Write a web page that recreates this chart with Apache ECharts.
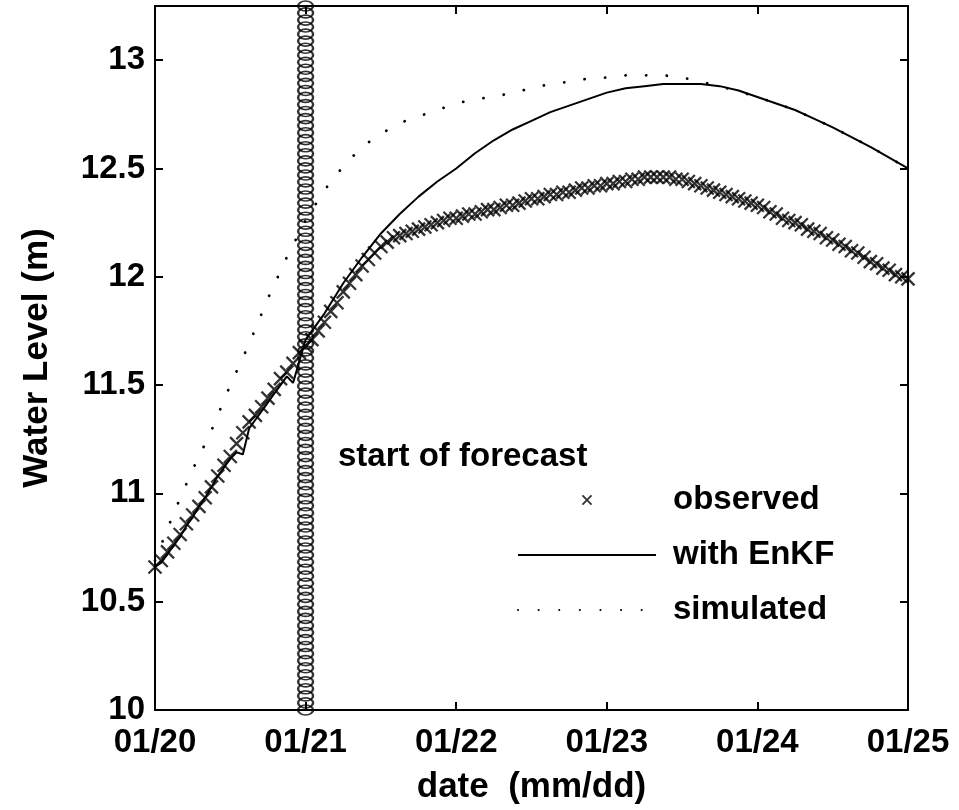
<!DOCTYPE html>
<html>
<head>
<meta charset="utf-8">
<script src="https://cdn.jsdelivr.net/npm/echarts@6/dist/echarts.min.js"></script>
<style>
  html, body { margin: 0; padding: 0; background: #fff; }
  #chart { width: 959px; height: 810px; }
</style>
</head>
<body>
<div id="chart"></div>
<script>
// Time axis runs in hours from 01/20 00:00; one tick label per day.
const dateLabels = ['01/20', '01/21', '01/22', '01/23', '01/24', '01/25'];
const yTicks = [10, 10.5, 11, 11.5, 12, 12.5, 13];

// Hourly observed water level (m), hour 0 .. 120
const obsLevel = [
  10.66, 10.69, 10.73, 10.77, 10.81, 10.86, 10.90, 10.94, 10.98, 11.03, 11.08, 11.13,
  11.17, 11.23, 11.28, 11.33, 11.36, 11.40, 11.44, 11.48, 11.53, 11.56, 11.60, 11.65, 11.68,
  11.71, 11.75, 11.79, 11.84, 11.88, 11.93, 11.97, 12.01, 12.05, 12.08, 12.11, 12.14,
  12.16, 12.18, 12.19, 12.20, 12.21, 12.22, 12.23, 12.24, 12.25, 12.26, 12.27, 12.27,
  12.28, 12.29, 12.29, 12.30, 12.31, 12.31, 12.32, 12.33, 12.33, 12.34, 12.35, 12.36,
  12.36, 12.37, 12.38, 12.38, 12.39, 12.39, 12.40, 12.41, 12.41, 12.42, 12.42, 12.43,
  12.43, 12.44, 12.44, 12.45, 12.45, 12.46, 12.46, 12.46, 12.46, 12.46, 12.45, 12.45,
  12.44, 12.43, 12.42, 12.41, 12.40, 12.39, 12.38, 12.37, 12.36, 12.35, 12.34, 12.33,
  12.32, 12.30, 12.29, 12.27, 12.26, 12.25, 12.24, 12.22, 12.21, 12.20, 12.18, 12.17,
  12.15, 12.14, 12.12, 12.11, 12.09, 12.07, 12.06, 12.04, 12.03, 12.01, 12.00, 11.99
];

// Model run with EnKF assimilation (hourly updates until the forecast starts)
const enkfHours = [
  0, 1, 2, 3, 4, 5, 6, 7, 8, 9, 10, 11, 12, 13, 14, 15, 16, 17, 18, 19, 20, 21, 22, 23, 24,
  27, 30, 33, 36, 39, 42, 45, 48, 51, 54, 57, 60, 63, 66, 69, 72,
  75, 78, 81, 84, 87, 90, 93, 96, 99, 102, 105, 108, 111, 114, 117, 120
];
const enkfLevel = [
  10.66, 10.68, 10.72, 10.76, 10.80, 10.85, 10.89, 10.94, 10.98, 11.03, 11.08, 11.12, 11.16,
  11.19, 11.18, 11.30, 11.34, 11.38, 11.42, 11.46, 11.50, 11.54, 11.51, 11.61, 11.71,
  11.83, 11.97, 12.09, 12.20, 12.29, 12.37, 12.44, 12.50, 12.57, 12.63, 12.68, 12.72,
  12.76, 12.79, 12.82, 12.85, 12.87, 12.88, 12.89, 12.89, 12.89, 12.88, 12.86, 12.83,
  12.80, 12.77, 12.73, 12.69, 12.645, 12.60, 12.55, 12.50
];

// Open-loop simulation without assimilation
const simHours = [
  0, 3, 6, 9, 12, 15, 18, 21, 24, 27, 30, 33, 36, 39, 42, 45, 48, 51, 54, 57, 60,
  63, 66, 69, 72, 75, 78, 81, 84, 87, 90, 93, 96, 99, 102, 105, 108, 111, 114, 117, 120
];
const simLevel = [
  10.69, 10.91, 11.11, 11.29, 11.50, 11.69, 11.90, 12.09, 12.26, 12.40, 12.51, 12.60,
  12.66, 12.71, 12.74, 12.77, 12.80, 12.82, 12.83, 12.85, 12.87, 12.89, 12.90, 12.915,
  12.92, 12.93, 12.93, 12.93, 12.92, 12.90, 12.88, 12.855, 12.83, 12.80, 12.77, 12.73,
  12.69, 12.645, 12.60, 12.55, 12.50
];

// Vertical marker column at the forecast start (01/21 00:00)
const forecastStartHour = 24;
const forecastMarkLevels = [
  10.000, 10.033, 10.065, 10.098, 10.130, 10.163, 10.195, 10.228, 10.260, 10.293,
  10.325, 10.358, 10.390, 10.423, 10.455, 10.488, 10.520, 10.553, 10.585, 10.618,
  10.650, 10.683, 10.715, 10.748, 10.780, 10.813, 10.845, 10.878, 10.910, 10.943,
  10.975, 11.008, 11.040, 11.073, 11.105, 11.138, 11.170, 11.203, 11.235, 11.268,
  11.300, 11.333, 11.365, 11.398, 11.430, 11.463, 11.495, 11.528, 11.560, 11.593,
  11.625, 11.658, 11.690, 11.723, 11.755, 11.788, 11.820, 11.853, 11.885, 11.918,
  11.950, 11.983, 12.015, 12.048, 12.080, 12.113, 12.145, 12.178, 12.210, 12.243,
  12.275, 12.308, 12.340, 12.373, 12.405, 12.438, 12.470, 12.503, 12.535, 12.568,
  12.600, 12.633, 12.665, 12.698, 12.730, 12.763, 12.795, 12.828, 12.860, 12.893,
  12.925, 12.958, 12.990, 13.023, 13.055, 13.088, 13.120, 13.153, 13.185, 13.218,
  13.250
];

const FONT = "'Liberation Sans', Arial, Helvetica, sans-serif";
const crossPath = 'path://M0,0L10,10M10,0L0,10';
const smallCrossPath = 'path://M-6,-6M16,16M0,0L10,10M10,0L0,10';

const obsData = obsLevel.map((v, i) => [i, v]);
const enkfData = enkfHours.map((h, i) => [h, enkfLevel[i]]);
const simData = simHours.map((h, i) => [h, simLevel[i]]);
const markData = forecastMarkLevels.map(v => [forecastStartHour, v]);

const axisLine = { show: true, onZero: false, lineStyle: { color: '#000', width: 2 } };
const tick = { show: true, inside: true, length: 8, lineStyle: { color: '#000', width: 2 } };
const labelFont = { color: '#000', fontFamily: FONT, fontWeight: 'bold', fontSize: 33 };
const hiddenSymbol = { color: '#000', opacity: 0 };

const chart = echarts.init(document.getElementById('chart'), null, { renderer: 'canvas' });
chart.setOption({
  backgroundColor: '#fff',
  animation: false,
  grid: { left: 155, right: 51, top: 6, bottom: 100, outerBoundsMode: 'none', containLabel: false },
  xAxis: [
    {
      type: 'value', min: 0, max: 120, interval: 24, position: 'bottom',
      axisLine, axisTick: tick, splitLine: { show: false },
      axisLabel: Object.assign({ margin: 16, formatter: v => dateLabels[Math.round(v / 24)] }, labelFont),
      name: 'date  (mm/dd)', nameLocation: 'middle', nameGap: 60,
      nameTextStyle: { color: '#000', fontFamily: FONT, fontWeight: 'bold', fontSize: 35 }
    },
    {
      type: 'value', min: 0, max: 120, interval: 24, position: 'top',
      axisLine, axisTick: tick, splitLine: { show: false }, axisLabel: { show: false }
    }
  ],
  yAxis: [
    {
      type: 'value', min: 10, max: 13.25, interval: 0.5, position: 'left',
      axisLine, axisTick: tick, splitLine: { show: false },
      axisLabel: Object.assign({
        margin: 10,
        formatter: v => (yTicks.indexOf(v) >= 0 ? String(v) : '')
      }, labelFont),
      name: 'Water Level (m)', nameLocation: 'middle', nameGap: 100,
      nameTextStyle: { color: '#000', fontFamily: FONT, fontWeight: 'bold', fontSize: 35 }
    },
    {
      type: 'value', min: 10, max: 13.25, interval: 0.5, position: 'right',
      axisLine, axisTick: tick, splitLine: { show: false }, axisLabel: { show: false }
    }
  ],
  legend: {
    orient: 'vertical', left: 512, top: 477,
    itemWidth: 138, itemHeight: 20, itemGap: 19,
    selectedMode: false,
    textStyle: { color: '#000', fontFamily: FONT, fontWeight: 'bold', fontSize: 33, lineHeight: 36, padding: [0, 0, 0, 12] },
    data: [
      { name: 'observed', icon: smallCrossPath, itemStyle: { color: 'none', borderColor: '#000', borderWidth: 1.8 } },
      { name: 'with EnKF', itemStyle: hiddenSymbol },
      { name: 'simulated', itemStyle: hiddenSymbol }
    ]
  },
  graphic: [
    {
      type: 'text', left: 338, top: 440, silent: true,
      style: { text: 'start of forecast', fill: '#000', font: 'bold 33px ' + FONT }
    }
  ],
  series: [
    {
      name: 'simulated', type: 'line', data: simData, symbol: 'none', smooth: false,
      itemStyle: { color: '#000' },
      lineStyle: { color: '#000', width: 2.8, type: [0.1, 20.5], cap: 'round' },
      z: 2
    },
    {
      name: 'with EnKF', type: 'line', data: enkfData, symbol: 'none',
      itemStyle: { color: '#000' },
      lineStyle: { color: '#000', width: 2 },
      z: 3
    },
    {
      name: 'observed', type: 'scatter', data: obsData,
      symbol: crossPath, symbolSize: 13,
      itemStyle: { color: 'none', borderColor: '#000', borderWidth: 2.3 },
      z: 4
    },
    {
      name: 'forecast start', type: 'scatter', data: markData, clip: false,
      symbol: 'circle', symbolSize: [15, 10],
      itemStyle: { color: 'none', borderColor: '#000', borderWidth: 2 },
      z: 5
    }
  ]
});
</script>
</body>
</html>
